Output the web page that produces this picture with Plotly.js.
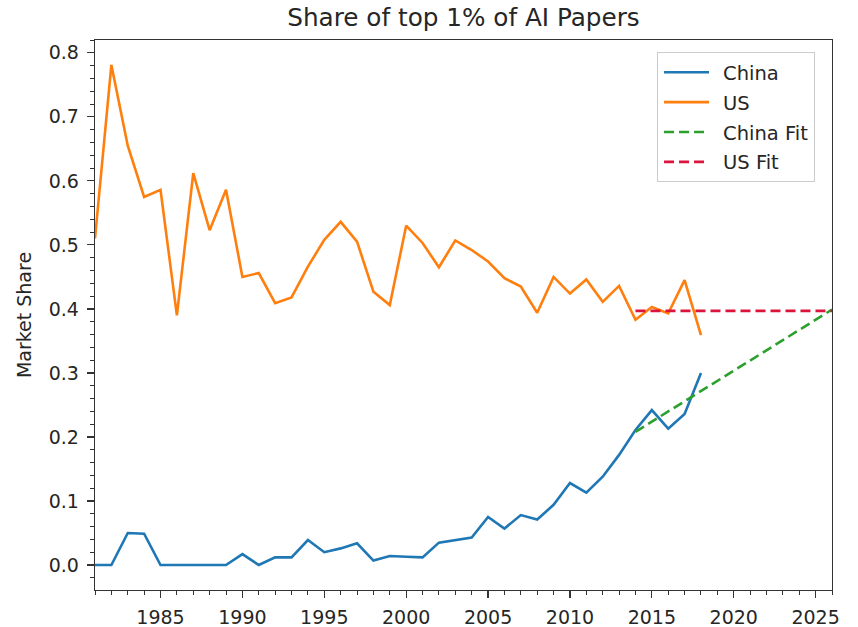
<!DOCTYPE html>
<html>
<head>
<meta charset="utf-8">
<script src="https://cdn.plot.ly/plotly-3.0.1.min.js"></script>
<style>
  html, body { margin: 0; padding: 0; background: #fff; }
  #chart { width: 858px; height: 627px; }
</style>
</head>
<body>
<div id="chart"></div>
<script>
// ---- data ----
const years = [1981,1982,1983,1984,1985,1986,1987,1988,1989,1990,
               1991,1992,1993,1994,1995,1996,1997,1998,1999,2000,
               2001,2002,2003,2004,2005,2006,2007,2008,2009,2010,
               2011,2012,2013,2014,2015,2016,2017,2018];
const chinaShare = [0.000,0.000,0.050,0.049,0.000,0.000,0.000,0.000,0.000,0.017,
                    0.000,0.012,0.012,0.039,0.020,0.026,0.034,0.007,0.014,0.013,
                    0.012,0.035,0.039,0.043,0.075,0.057,0.078,0.071,0.094,0.128,
                    0.113,0.138,0.172,0.211,0.242,0.213,0.236,0.300];
const usShare = [0.510,0.781,0.655,0.575,0.586,0.390,0.612,0.523,0.586,0.450,
                 0.456,0.409,0.418,0.466,0.508,0.536,0.505,0.427,0.406,0.530,
                 0.503,0.465,0.507,0.492,0.474,0.448,0.435,0.394,0.450,0.424,
                 0.446,0.411,0.436,0.383,0.403,0.393,0.445,0.359];
const fitYears = [2014, 2026];
const chinaFit = [0.208, 0.399];
const usFit = [0.397, 0.397];
const seriesNames = ["China", "US", "China Fit", "US Fit"];
const titleText = "Share of top 1% of AI Papers";
const yTitle = "Market Share";

const fontFam = "DejaVu Sans, sans-serif";
const txt = "#262626";

const traces = [
  {x: years, y: chinaShare, name: seriesNames[0], mode: "lines",
   line: {color: "#1f77b4", width: 2.6}, legendgroup: "a"},
  {x: years, y: usShare, name: seriesNames[1], mode: "lines",
   line: {color: "#ff7f0e", width: 2.6}, legendgroup: "b"},
  {x: fitYears, y: chinaFit, name: seriesNames[2], mode: "lines",
   line: {color: "#2ca02c", width: 2.6, dash: "10px,5px"}, legendgroup: "c"},
  {x: fitYears, y: usFit, name: seriesNames[3], mode: "lines",
   line: {color: "#dc143c", width: 2.6, dash: "10px,5px"}, legendgroup: "d"}
];

const layout = {
  width: 858, height: 627,
  margin: {l: 95, r: 26, t: 40, b: 37},
  paper_bgcolor: "#fff", plot_bgcolor: "#fff",
  font: {family: fontFam, color: txt, size: 19},
  title: {text: titleText, font: {family: fontFam, size: 24.7, color: txt},
          x: 0.5, xref: "paper", y: 0.972, yref: "container", yanchor: "middle"},
  showlegend: true,
  legend: {x: 0.7626, y: 0.978, xanchor: "left", yanchor: "top",
           bgcolor: "rgba(255,255,255,0.8)", bordercolor: "#cccccc", borderwidth: 1,
           font: {family: fontFam, size: 19.5, color: txt},
           itemwidth: 55, tracegroupgap: 1.5, traceorder: "grouped"},
  xaxis: {range: [1981, 2026], tick0: 1985, dtick: 5, ticks: "outside", ticklen: 7,
          tickwidth: 1.2, tickcolor: "#333", showline: true, linecolor: "#333", linewidth: 1.3,
          mirror: true, showgrid: false, zeroline: false, ticklabelstandoff: 3,
          tickfont: {family: fontFam, size: 19, color: txt},
          minor: {dtick: 1, ticks: "outside", ticklen: 4, tickcolor: "#333", tickwidth: 1, showgrid: false}},
  yaxis: {range: [-0.039, 0.82], tick0: 0, dtick: 0.1, tickformat: ".1f", ticks: "outside", ticklen: 7,
          tickwidth: 1.2, tickcolor: "#333", showline: true, linecolor: "#333", linewidth: 1.3,
          mirror: true, showgrid: false, zeroline: false, ticklabelstandoff: 4,
          tickfont: {family: fontFam, size: 19, color: txt},
          title: {text: yTitle, font: {family: fontFam, size: 19, color: txt}, standoff: 12},
          minor: {dtick: 0.02, ticks: "outside", ticklen: 4, tickcolor: "#333", tickwidth: 1, showgrid: false}}
};

Plotly.newPlot("chart", traces, layout, {displayModeBar: false, staticPlot: true}).then(function (gd) {
  // lengthen legend line samples to match the matplotlib-style handles
  gd.querySelectorAll(".legend .legendlines path").forEach(function (p) {
    p.setAttribute("d", "M6,0h45");
  });
});
</script>
</body>
</html>
